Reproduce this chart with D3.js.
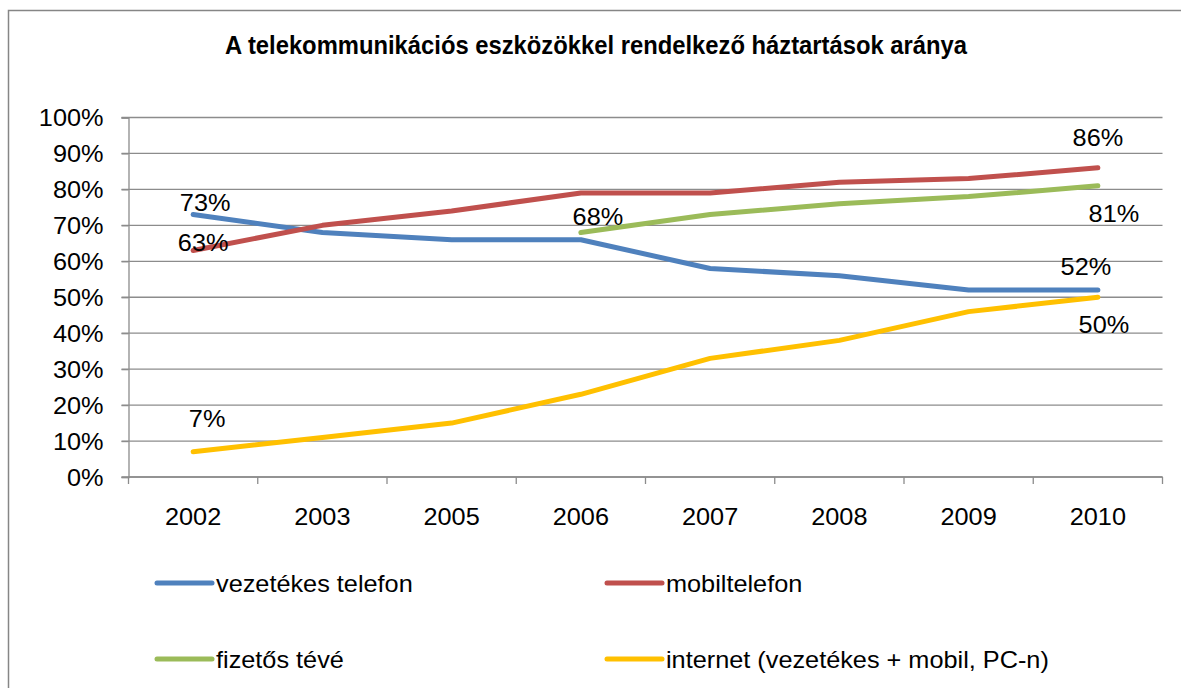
<!DOCTYPE html>
<html>
<head>
<meta charset="utf-8">
<script src="https://cdn.jsdelivr.net/npm/d3@7"></script>
<style>
  html, body { margin: 0; padding: 0; background: #fff; }
  svg { display: block; }
  text { font-family: "Liberation Sans", Arial, sans-serif; fill: #000; }
</style>
</head>
<body>
<svg id="chart" width="1181" height="688"></svg>
<script>
const title = "A telekommunikációs eszközökkel rendelkező háztartások aránya";
const years = ["2002", "2003", "2005", "2006", "2007", "2008", "2009", "2010"];
const vezetekes = [73, 68, 66, 66, 58, 56, 52, 52];
const mobil = [63, 70, 74, 79, 79, 82, 83, 86];
const fizetos = [null, null, null, 68, 73, 76, 78, 81];
const internet = [7, 11, 15, 23, 33, 38, 46, 50];
const seriesNames = ["vezetékes telefon", "mobiltelefon", "fizetős tévé", "internet (vezetékes + mobil, PC-n)"];
const yTicks = [0, 10, 20, 30, 40, 50, 60, 70, 80, 90, 100];

const colors = ["#4F81BD", "#C0504D", "#9BBB59", "#FFC000"];
const seriesData = [vezetekes, mobil, fizetos, internet];

// data label placement: [seriesIndex, categoryIndex, dx, dy(baseline offset)]
const labelPlacement = [
  [0, 0, 12, -4],
  [1, 0, 10, 0],
  [3, 0, 14, -25],
  [2, 3, 17, -8],
  [1, 7, 0, -22],
  [2, 7, 16, 36],
  [0, 7, -12, -15],
  [3, 7, 6, 36]
];

const svg = d3.select("#chart");
const SX = 1.1;

// outer border
svg.append("rect")
  .attr("x", 8.5).attr("y", 10.5)
  .attr("width", 1300).attr("height", 800)
  .attr("fill", "none").attr("stroke", "#868686").attr("stroke-width", 1.5);

svg.append("text")
  .attr("x", 596).attr("y", 54)
  .attr("text-anchor", "middle")
  .attr("textLength", 742)
  .attr("lengthAdjust", "spacingAndGlyphs")
  .style("font-family", "'Liberation Sans Narrow', 'Liberation Sans', sans-serif")
  .style("font-size", "25px")
  .style("font-weight", "bold")
  .text(title);

const plot = { left: 128.5, right: 1162.5, top: 117.5, bottom: 477 };

const x = d3.scaleBand().domain(years).range([plot.left, plot.right]).padding(0);
const y = d3.scaleLinear().domain([0, 100]).range([plot.bottom, plot.top]);
const cx = d => x(d) + x.bandwidth() / 2;

// gridlines
svg.append("g")
  .selectAll("line")
  .data(yTicks)
  .join("line")
  .attr("x1", plot.left - 7).attr("x2", plot.right)
  .attr("y1", d => y(d)).attr("y2", d => y(d))
  .attr("stroke", "#8c8c8c").attr("stroke-width", 1.3);

// y axis
const yAxis = svg.append("g")
  .attr("transform", `translate(${plot.left},0)`)
  .call(d3.axisLeft(y).tickValues(yTicks).tickFormat(d => d + "%").tickSize(7).tickPadding(25 - 7));
yAxis.select(".domain").attr("stroke", "#8c8c8c").attr("stroke-width", 1.3);
yAxis.selectAll(".tick line").attr("stroke", "#8c8c8c").attr("stroke-width", 1.3);
yAxis.selectAll(".tick text")
  .style("font-size", "23px")
  .style("font-family", "'Liberation Sans', Arial, sans-serif")
  .attr("dy", "0.36em")
  .attr("transform", `scale(${SX},1)`)
  .attr("x", -25 / SX);

// x axis
const xAxis = svg.append("g")
  .attr("transform", `translate(0,${plot.bottom})`)
  .call(d3.axisBottom(x).tickSize(0).tickPadding(0));
xAxis.select(".domain").remove();
xAxis.selectAll(".tick text")
  .style("font-size", "23px")
  .style("font-family", "'Liberation Sans', Arial, sans-serif")
  .attr("y", 0).attr("dy", 48)
  .attr("transform", `scale(${SX},1)`);
xAxis.append("line")
  .attr("x1", plot.left).attr("x2", plot.right)
  .attr("stroke", "#8c8c8c").attr("stroke-width", 1.3);
xAxis.selectAll("line.bt")
  .data(d3.range(years.length + 1))
  .join("line").attr("class", "bt")
  .attr("x1", i => plot.left + i * x.step()).attr("x2", i => plot.left + i * x.step())
  .attr("y1", 0).attr("y2", 7)
  .attr("stroke", "#8c8c8c").attr("stroke-width", 1.3);

// lines
const line = d3.line()
  .defined(d => d.v != null)
  .x(d => cx(d.year))
  .y(d => y(d.v));

seriesData.forEach((vals, i) => {
  const pts = years.map((yr, j) => ({ year: yr, v: vals[j] }));
  svg.append("path")
    .datum(pts)
    .attr("fill", "none")
    .attr("stroke", colors[i])
    .attr("stroke-width", 5)
    .attr("stroke-linecap", "round")
    .attr("stroke-linejoin", "round")
    .attr("d", line);
});

// data labels
labelPlacement.forEach(([s, c, dx, dy]) => {
  const v = seriesData[s][c];
  const px = cx(years[c]) + dx;
  const py = y(v) + dy;
  svg.append("text")
    .attr("transform", `translate(${px},${py}) scale(${SX},1)`)
    .attr("text-anchor", "middle")
    .style("font-size", "23px")
    .text(v + "%");
});

// legend
const legendPos = [[157, 583], [607, 583], [157, 659], [607, 659]];
seriesNames.forEach((name, i) => {
  const [lx, ly] = legendPos[i];
  svg.append("line")
    .attr("x1", lx).attr("x2", lx + 55)
    .attr("y1", ly).attr("y2", ly)
    .attr("stroke", colors[i]).attr("stroke-width", 5)
    .attr("stroke-linecap", "round");
  svg.append("text")
    .attr("transform", `translate(${lx + 59},${ly + 9}) scale(${SX},1)`)
    .style("font-size", "23px")
    .text(name);
});
</script>
</body>
</html>
